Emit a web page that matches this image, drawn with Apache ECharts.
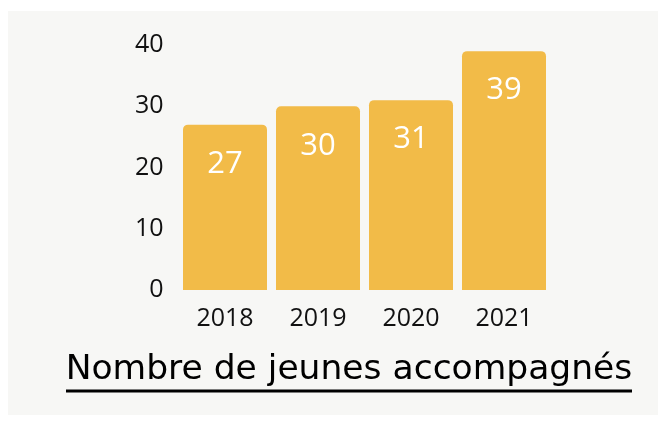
<!DOCTYPE html>
<html><head><meta charset="utf-8">
<script src="https://cdn.jsdelivr.net/npm/echarts@6/dist/echarts.min.js"></script>
<style>html,body{margin:0;padding:0;background:#fff}#c{width:663px;height:421px}</style>
</head><body><div id="c"></div>
<script>
var years = ['2018', '2019', '2020', '2021'];
var jeunes = [27, 30, 31, 39];
var yTicks = [0, 10, 20, 30, 40];
var titleText = 'Nombre de jeunes accompagnés';

var chart = echarts.init(document.getElementById('c'));
chart.setOption({
  backgroundColor: '#ffffff',
  animation: false,
  graphic: [
    { type: 'rect', z: -10, shape: { x: 8, y: 11, width: 650, height: 404 }, style: { fill: '#f7f7f5' } },
    { type: 'text', x: 349, y: 388, style: { text: titleText, fontFamily: 'DejaVu Sans', fontSize: 34.5, fill: '#000', align: 'center', verticalAlign: 'bottom' } },
    { type: 'line', shape: { x1: 66, y1: 391, x2: 632, y2: 391 }, style: { stroke: '#000', lineWidth: 3 } }
  ],
  grid: { left: 178.5, right: 112.5, top: 45, bottom: 131 },
  xAxis: {
    type: 'category', data: years,
    axisLine: { show: false }, axisTick: { show: false },
    axisLabel: { margin: 16, fontFamily: 'Open Sans', fontSize: 25, color: '#111' }
  },
  yAxis: {
    type: 'value', min: yTicks[0], max: yTicks[yTicks.length - 1], interval: 10,
    splitLine: { show: false }, axisLine: { show: false }, axisTick: { show: false },
    axisLabel: { margin: 15, fontFamily: 'Open Sans', fontSize: 25, color: '#111' }
  },
  series: [{
    type: 'bar', data: jeunes, barWidth: 84,
    itemStyle: { color: '#f2bb48', borderRadius: [5, 5, 0, 0] },
    label: { show: true, position: 'insideTop', distance: 24, fontFamily: 'Open Sans', fontSize: 31, color: '#fff' }
  }]
});
</script></body></html>
